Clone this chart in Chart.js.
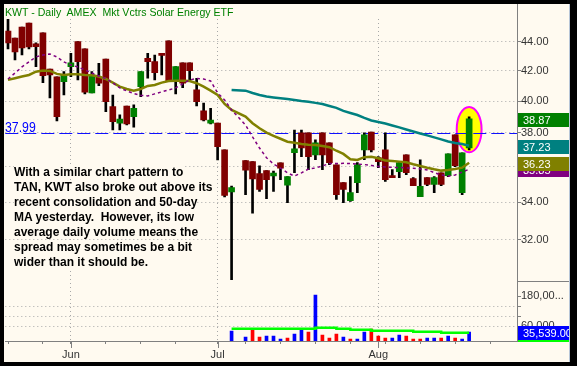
<!DOCTYPE html>
<html>
<head>
<meta charset="utf-8">
<script src="https://cdn.jsdelivr.net/npm/chart.js"></script>
<style>
  html, body { margin: 0; padding: 0; background: #000; }
  #frame { position: absolute; left: 0; top: 0; width: 577px; height: 366px; background: #000; overflow: hidden; }
  #panel { position: absolute; left: 4px; top: 4px; width: 565px; height: 358px; background: #fffaf0; }
  #edge { position: absolute; left: 569px; top: 4px; width: 1px; height: 358px; background: #b8c6d8; }
  #panel canvas { position: absolute; left: 0; top: 0; }
  #title { position: absolute; left: 5px; top: 6px; font: 11.5px "Liberation Sans", Arial, sans-serif; line-height: 13px;
           color: #008000; white-space: pre; transform: scaleX(0.92); transform-origin: 0 0; }
  #ref { position: absolute; left: 5px; top: 119px; font: 15px "Liberation Sans", Arial, sans-serif; line-height: 15px;
         color: #0000ff; transform: scaleX(0.82); transform-origin: 0 0; }
  #note { position: absolute; left: 14px; top: 165px; font: bold 12px "Liberation Sans", Arial, sans-serif;
          line-height: 15px; color: #000; white-space: pre; }
  #note span { background: #fffaf0; }
</style>
</head>
<body>
<div id="frame">
  <div id="panel"><canvas id="chart" width="565" height="358"></canvas></div>
  <div id="edge"></div>
  <div id="title">KWT - Daily  AMEX  Mkt Vctrs Solar Energy ETF</div>
  <div id="ref">37.99</div>
  <div id="note"><span>With a similar chart pattern to</span>
<span>TAN, KWT also broke out above its</span>
<span>recent consolidation and 50-day</span>
<span>MA yesterday.  However, its low</span>
<span>average daily volume means the</span>
<span>spread may sometimes be a bit</span>
<span>wider than it should be.</span></div>
</div>
<script>
// daily bars, one slot per session (slot 33 is the Jul 5 holiday)
const opens = [44.76, 44.26, 45.05, 45.34, 43.84, 44.62, 42.11, 41.58, 41.26, 42.27,
  44.00, 43.49, 40.52, 41.56, 42.79, 39.64, 38.60, 39.68, 39.01, 40.93,
  42.84, 42.61, 43.19, 44.05, 41.38, 42.53, 42.53, 40.72, 39.37, 38.60,
  38.60, 36.98, 34.57, null, 36.35, 36.29, 35.60, 35.77, 35.46, 36.22,
  34.95, 36.81, 38.00, 38.00, 36.69, 38.00, 37.40, 36.11, 35.09, 34.09,
  35.09, 36.98, 38.06, 36.52, 36.98, 35.48, 35.71, 36.69, 35.32, 34.31,
  35.37, 34.98, 35.65, 35.48, 37.88, 34.53, 37.10];
const highs = [45.60, 44.26, 45.05, 45.34, 43.91, 44.62, 42.11, 41.58, 41.93, 43.19,
  44.00, 43.49, 41.93, 42.50, 42.79, 40.39, 39.12, 39.68, 39.75, 41.93,
  43.19, 43.07, 43.19, 44.05, 42.27, 42.53, 42.53, 41.49, 39.86, 39.54,
  38.60, 36.98, 34.89, null, 36.35, 36.29, 36.04, 35.77, 35.74, 36.22,
  35.43, 38.18, 38.18, 38.00, 37.58, 38.00, 37.40, 36.11, 35.09, 35.43,
  36.23, 38.00, 38.06, 36.58, 38.00, 35.83, 36.23, 36.69, 35.37, 36.40,
  35.37, 35.43, 35.65, 36.75, 37.88, 36.81, 39.00];
const lows = [43.49, 42.73, 43.07, 43.49, 42.27, 41.20, 40.20, 38.74, 40.39, 41.60,
  41.38, 40.46, 40.52, 41.00, 39.32, 38.18, 38.18, 38.49, 38.35, 40.28,
  41.49, 41.38, 41.71, 41.26, 40.46, 40.87, 41.40, 39.68, 38.74, 38.55,
  36.39, 34.29, 30.03, null, 34.42, 33.41, 34.60, 34.20, 34.60, 35.26,
  33.98, 35.65, 36.58, 35.83, 36.40, 35.83, 36.11, 34.15, 33.98, 34.04,
  34.53, 36.40, 36.86, 35.94, 35.15, 35.37, 35.37, 35.54, 34.92, 34.31,
  34.92, 34.53, 34.92, 35.43, 36.00, 34.42, 36.98];
const closes = [43.91, 43.28, 43.56, 43.63, 43.65, 41.66, 41.71, 39.00, 41.71, 42.53,
  42.61, 40.57, 41.71, 41.16, 39.96, 38.70, 38.85, 38.55, 39.54, 41.93,
  42.61, 41.87, 43.04, 41.26, 42.27, 41.16, 42.00, 39.96, 38.81, 38.80,
  37.17, 34.37, 34.81, null, 35.79, 35.30, 34.70, 35.26, 35.63, 35.91,
  35.43, 37.04, 37.10, 36.58, 37.40, 36.69, 36.23, 34.42, 34.70, 34.53,
  36.11, 37.88, 36.98, 36.29, 35.26, 35.37, 36.23, 35.65, 34.92, 34.88,
  34.98, 35.37, 34.98, 36.75, 36.06, 36.81, 38.87];

// moving averages as drawn (10-day dashed, 20-day, 50-day)
const ma10 = [41.44, 41.84, 42.25, 42.59, 42.93, 43.07, 43.14, 42.93, 42.59, 42.38,
  42.25, 42.05, 41.84, 41.64, 41.47, 41.18, 40.85, 40.65, 40.49, 40.36,
  40.33, 40.46, 40.59, 40.72, 40.85, 41.11, 41.38, 41.47, 41.44, 41.31,
  40.52, 40.07, 39.43, null, 38.49, 37.76, 37.09, 36.52, 36.15, 35.92,
  35.64, 35.46, 35.64, 35.86, 35.92, 36.04, 36.18, 36.18, 36.19, 36.18,
  36.15, 36.12, 36.07, 36.01, 35.98, 35.96, 35.95, 35.92, 35.91, 35.86,
  35.81, 35.66, 35.52, 35.46, 35.52, 35.69, 35.85];
const ma20 = [41.38, 41.49, 41.60, 41.71, 41.93, 42.00, 41.98, 41.78, 41.71, 41.76,
  41.76, 41.71, 41.69, 41.60, 41.44, 41.20, 40.93, 40.78, 40.67, 40.78,
  40.98, 41.04, 41.20, 41.31, 41.33, 41.33, 41.31, 41.16, 40.93, 40.67,
  40.39, 39.81, 39.43, null, 39.01, 38.60, 38.29, 38.02, 37.82, 37.65,
  37.47, 37.41, 37.33, 37.29, 37.27, 37.21, 37.14, 36.93, 36.74, 36.43,
  36.39, 36.55, 36.58, 36.49, 36.35, 36.33, 36.29, 36.25, 36.14, 36.04,
  35.94, 35.85, 35.77, 35.81, 35.86, 35.94, 36.23];
// the 50-day line and the volume panel begin at slot 32
const seriesStart = 32;
const ma50 = [40.72, null, 40.67, 40.52, 40.39, 40.29, 40.23, 40.18, 40.13, 40.07,
  40.00, 39.95, 39.88, 39.81, 39.68, 39.56, 39.37, 39.24, 39.11, 38.93,
  38.77, 38.68, 38.58, 38.46, 38.34, 38.21, 38.09, 37.97, 37.85, 37.73,
  37.61, 37.48, 37.39, 37.33, 37.23];
const volumes = [40000, null, 16000, 48000, 16000, 20000, 20000, 8000, 12000, 28000,
  44000, 36000, 184000, 24000, 12000, 28000, 16000, 8000, 8000, 36000,
  48000, 20000, 12000, 12000, 24000, 20000, 8000, 8000, 12000, 12000,
  12000, 20000, 12000, 8000, 35539];
const volumeAvg = [49000, null, 49000, 49000, 49000, 49000, 49000, 49000, 49000, 49000,
  49000, 49000, 53000, 53000, 53000, 49000, 49000, 45000, 45000, 45000,
  41000, 41000, 41000, 41000, 41000, 41000, 37000, 37000, 37000, 37000,
  33000, 33000, 33000, 33000, 33000];

// axes
const priceTicks = [32, 34, 36, 38, 40, 42, 44];
const volumeTicks = [60000, 100000, 140000, 180000];
const volumeTickLabels = ['60,000', '', '', '180,00...'];
const monthTicks = [9, 30, 53];
const monthLabels = ['Jun', 'Jul', 'Aug'];
const weekTicks = [0, 5, 14, 19, 24, 34, 39, 44, 49, 54, 59, 64, 69];
const refLevel = 37.99;
const highlightBar = 66, highlightHigh = 39.62, highlightLow = 36.84, highlightSpan = 1.78;

const priceMin = 29.96, priceMax = 45.63;
const xMin = -0.385, xMax = 72.85;

const GRID = '#a8a8a8';
const AXIS = '#808080';

const slots = opens.map((_, i) => i).filter(i => opens[i] !== null);
const wickData = slots.map(i => ({ x: i, y: [lows[i], highs[i]] }));
const bodyData = slots.map(i => ({ x: i, y: [opens[i], closes[i]] }));
const bodyColors = slots.map(i => closes[i] >= opens[i] ? '#008000' : '#800000');
const line = arr => arr.map((v, i) => ({ x: i, y: v }));
const lateLine = arr => arr.map((v, i) => ({ x: i + seriesStart, y: v }));

const prevClose = i => { let j = i - 1; while (j >= 0 && closes[j] === null) j--; return closes[j]; };
const volData = [], volColors = [];
volumes.forEach((v, k) => {
  if (v === null) return;
  const i = k + seriesStart;
  volData.push({ x: i, y: v });
  volColors.push(closes[i] >= prevClose(i) ? '#0000ff' : '#ff0000');
});

const last = a => a[a.length - 1];

const decor = {
  id: 'decor',
  beforeDatasetsDraw(chart) {
    const { ctx, chartArea: a, scales: { x, y } } = chart;
    ctx.save();
    const cx = x.getPixelForValue(highlightBar);
    const rx = x.getPixelForValue(highlightBar + highlightSpan) - cx;
    const t = y.getPixelForValue(highlightHigh), b = y.getPixelForValue(highlightLow);
    ctx.beginPath();
    ctx.ellipse(cx, (t + b) / 2, rx, (b - t) / 2, 0, 0, Math.PI * 2);
    ctx.fillStyle = '#ffff00';
    ctx.fill();
    ctx.lineWidth = 2;
    ctx.strokeStyle = '#ff00ff';
    ctx.stroke();

    const ry = Math.round(y.getPixelForValue(refLevel)) + 0.5;
    ctx.beginPath();
    ctx.setLineDash([13, 5]);
    ctx.moveTo(a.left, ry);
    ctx.lineTo(a.right, ry);
    ctx.lineWidth = 1;
    ctx.strokeStyle = '#1010ff';
    ctx.stroke();
    ctx.restore();
  },
  afterDraw(chart) {
    const { ctx, chartArea: a, scales: { x, y, yv }, width } = chart;
    ctx.save();
    // axis line up to the top, panel separator and long month ticks
    ctx.strokeStyle = AXIS;
    ctx.lineWidth = 1;
    ctx.beginPath();
    const ax = Math.round(a.right) + 0.5;
    ctx.moveTo(ax, 0);
    ctx.lineTo(ax, a.top);
    ctx.moveTo(a.right, Math.round(yv.top) + 0.5);
    ctx.lineTo(width, Math.round(yv.top) + 0.5);
    monthTicks.forEach(m => {
      const px = Math.round(x.getPixelForValue(m)) + 0.5;
      ctx.moveTo(px, a.bottom);
      ctx.lineTo(px, a.bottom + 7);
    });
    ctx.stroke();

    const tag = (scale, value, color, text) => {
      const top = Math.round(scale.getPixelForValue(value)) - 6;
      ctx.fillStyle = color;
      ctx.fillRect(a.right + 1, top, width - a.right - 1, 14);
      ctx.fillStyle = '#ffffff';
      ctx.font = '11px "Liberation Sans", Arial, sans-serif';
      ctx.textBaseline = 'middle';
      ctx.fillText(text, a.right + 6, top + 7.5);
    };
    tag(y, last(ma10), '#800080', last(ma10).toFixed(2));
    tag(y, last(ma20), '#808000', last(ma20).toFixed(2));
    tag(y, last(ma50), '#008080', last(ma50).toFixed(2));
    tag(y, last(closes), '#008000', last(closes).toFixed(2));
    tag(yv, last(volumes), '#0000ff', last(volumes).toLocaleString('en-US') + '.00');
    ctx.fillStyle = '#00ff00';
    ctx.fillRect(a.right + 1, a.bottom - 1, width - a.right - 1, 2);
    ctx.restore();
  }
};

Chart.defaults.font.family = '"Liberation Sans", Arial, sans-serif';
Chart.defaults.font.size = 11;
Chart.defaults.color = '#333333';

new Chart(document.getElementById('chart'), {
  type: 'bar',
  data: {
    datasets: [
      { type: 'bar', data: wickData, backgroundColor: '#000000', barThickness: 2, grouped: false, order: 3, yAxisID: 'y' },
      { type: 'bar', data: bodyData, backgroundColor: bodyColors, barThickness: 6, grouped: false, order: 2, minBarLength: 1, yAxisID: 'y' },
      { type: 'bar', data: volData, backgroundColor: volColors, barThickness: 3, grouped: false, order: 3, yAxisID: 'yv' },
      { type: 'line', data: line(ma10), borderColor: '#800080', borderWidth: 1.5, borderDash: [3, 3], pointRadius: 0, spanGaps: true, order: 1, yAxisID: 'y' },
      { type: 'line', data: line(ma20), borderColor: '#808000', borderWidth: 2.5, pointRadius: 0, spanGaps: true, order: 1, yAxisID: 'y' },
      { type: 'line', data: lateLine(ma50), borderColor: '#008080', borderWidth: 2.5, pointRadius: 0, spanGaps: true, order: 1, yAxisID: 'y' },
      { type: 'line', data: lateLine(volumeAvg), borderColor: '#00ff00', borderWidth: 2.5, pointRadius: 0, spanGaps: true, stepped: true, order: 1, yAxisID: 'yv' }
    ]
  },
  options: {
    responsive: false,
    animation: false,
    devicePixelRatio: 1,
    layout: { padding: { top: 15, left: 0, right: 0, bottom: 0 } },
    plugins: { legend: { display: false }, tooltip: { enabled: false } },
    scales: {
      x: {
        type: 'linear', min: xMin, max: xMax, offset: false, bounds: 'data',
        afterBuildTicks: s => { s.ticks = [...weekTicks, ...monthTicks].sort((p, q) => p - q).map(v => ({ value: v })); },
        afterFit: s => { s.height = 21; },
        ticks: { autoSkip: false, maxRotation: 0, padding: 4,
                 callback: v => { const k = monthTicks.indexOf(v); return k >= 0 ? monthLabels[k] : ''; } },
        grid: { offset: false, tickLength: 3, tickColor: AXIS,
                color: c => (c.tick && monthTicks.includes(c.tick.value)) ? GRID : 'rgba(0,0,0,0)' },
        border: { color: AXIS, dash: [1, 3] }
      },
      y: {
        type: 'logarithmic', position: 'right', stack: 'panels', stackWeight: 262,
        min: priceMin, max: priceMax, bounds: 'data',
        afterBuildTicks: s => { s.ticks = priceTicks.map(v => ({ value: v })); },
        afterFit: s => { s.width = 52; },
        ticks: { autoSkip: false, padding: 0, callback: v => Number(v).toFixed(2) },
        grid: { tickLength: 4, tickColor: AXIS, color: GRID },
        border: { color: AXIS, dash: [1, 3] }
      },
      yv: {
        type: 'linear', position: 'right', stack: 'panels', stackWeight: 60,
        min: 0, max: 240000, bounds: 'data',
        afterBuildTicks: s => { s.ticks = volumeTicks.map(v => ({ value: v })); },
        afterFit: s => { s.width = 52; },
        ticks: { autoSkip: false, padding: 0, callback: v => volumeTickLabels[volumeTicks.indexOf(v)] },
        grid: { tickLength: 4, tickColor: AXIS, color: c => (c.tick && c.tick.value < 180000) ? GRID : 'rgba(0,0,0,0)' },
        border: { color: AXIS, dash: [1, 3] }
      }
    }
  },
  plugins: [decor]
});
</script>
</body>
</html>
